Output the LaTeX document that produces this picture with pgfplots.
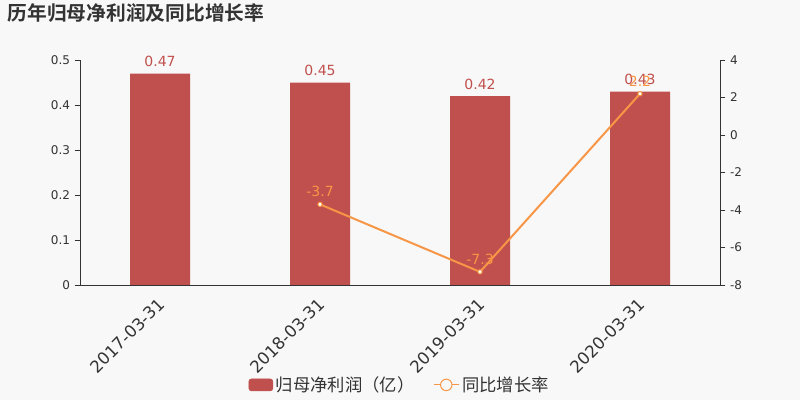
\documentclass[border=0pt]{standalone}
\usepackage{fontspec}
\setmainfont{DejaVu Sans}
\newfontfamily\cjk{Noto Sans CJK SC}[BoldFont={Noto Sans CJK SC Bold}]
\usepackage{pgfplots}
\pgfplotsset{compat=1.18}
\definecolor{barred}{RGB}{192,80,77}
\definecolor{lineor}{RGB}{247,150,70}
\definecolor{bgc}{RGB}{248,248,248}
\definecolor{axc}{RGB}{51,51,51}
\begin{document}
\begin{tikzpicture}[x=0.75pt,y=0.75pt]
\fill[bgc] (0,0) rectangle (800,400);
\useasboundingbox (0,0) rectangle (800,400);
\node[anchor=west, text=axc, font=\cjk\bfseries\fontsize{14.8}{16}\selectfont] at (3,387) {历年归母净利润及同比增长率};

% bars: left axis
\begin{axis}[
  at={(60pt,86.25pt)}, anchor=south west,
  scale only axis, width=480pt, height=168.75pt,
  xmin=-0.5, xmax=3.5, ymin=0, ymax=0.5,
  axis x line*=bottom, axis y line*=left,
  axis line style={axc, line width=0.6pt},
  ytick={0,0.1,...,0.5},
  yticklabel style={/pgf/number format/fixed, /pgf/number format/precision=1, font=\fontsize{9}{10}\selectfont, text=axc},
  /pgf/number format/assume math mode=true,
  xtick={0,1,2,3}, xticklabels={2017-03-31,2018-03-31,2019-03-31,2020-03-31},
  extra x ticks={-0.5,0.5,1.5,2.5},
  extra x tick labels={},
  extra x tick style={major tick length=5pt, tick style={axc, line width=0.6pt}},
  xticklabel style={rotate=45, anchor=north east, font=\fontsize{12.5}{14}\selectfont, text=axc, xshift=-1.5pt, yshift=1.5pt},
  major x tick style={draw=none},
  tick align=outside, major tick length=4pt,
  tick style={axc, line width=0.6pt},
  ytick pos=left,
]
\addplot[ybar, bar width=45pt, fill=barred, draw=none,
  nodes near coords, nodes near coords style={text=barred, font=\fontsize{10.5}{12}\selectfont, /pgf/number format/fixed, /pgf/number format/precision=2, yshift=1.5pt}]
  coordinates {(0,0.47) (1,0.45) (2,0.42) (3,0.43)};
\end{axis}

% growth: right axis
\begin{axis}[
  at={(60pt,86.25pt)}, anchor=south west,
  scale only axis, width=480pt, height=168.75pt,
  xmin=-0.5, xmax=3.5, ymin=-8, ymax=4,
  axis x line=none, axis y line*=right,
  axis line style={axc, line width=0.6pt},
  ytick={-8,-6,...,4},
  yticklabel style={font=\fontsize{9}{10}\selectfont, text=axc},
  /pgf/number format/assume math mode=true,
  tick align=outside, major tick length=4pt,
  tick style={axc, line width=0.6pt},
  legend columns=2,
  legend style={at={(0.5,-0.444)}, anchor=center, draw=none, fill=none,
    font=\cjk\fontsize{13}{15}\selectfont, text=axc,
    /tikz/every even column/.append style={column sep=12pt}},
  legend cell align=left,
]
\node[anchor=south, text=axc, font=\fontsize{9}{10}\selectfont] at (rel axis cs:1,1) [yshift=9pt] {\%};
\addlegendimage{legend image code/.code={\fill[barred, rounded corners=2pt] (0pt,-4.5pt) rectangle (18pt,4.5pt);}}
\addlegendentry{归母净利润（亿）}
\addlegendimage{legend image code/.code={\draw[lineor, line width=0.75pt] (0pt,0pt) -- (19pt,0pt); \draw[lineor, fill=bgc, line width=0.75pt] (9.5pt,0pt) circle (4.3pt);}}
\addlegendentry{同比增长率}
\addplot[lineor, line width=1.5pt, mark=*, mark size=1.6pt,
  mark options={fill=white, draw=lineor, line width=0.75pt},
  nodes near coords, nodes near coords align={above},
  nodes near coords style={text=lineor, font=\fontsize{10.5}{12}\selectfont, /pgf/number format/fixed, /pgf/number format/precision=1, yshift=2pt}]
  coordinates {(1,-3.7) (2,-7.3) (3,2.2)};
\end{axis}
\end{tikzpicture}
\end{document}
